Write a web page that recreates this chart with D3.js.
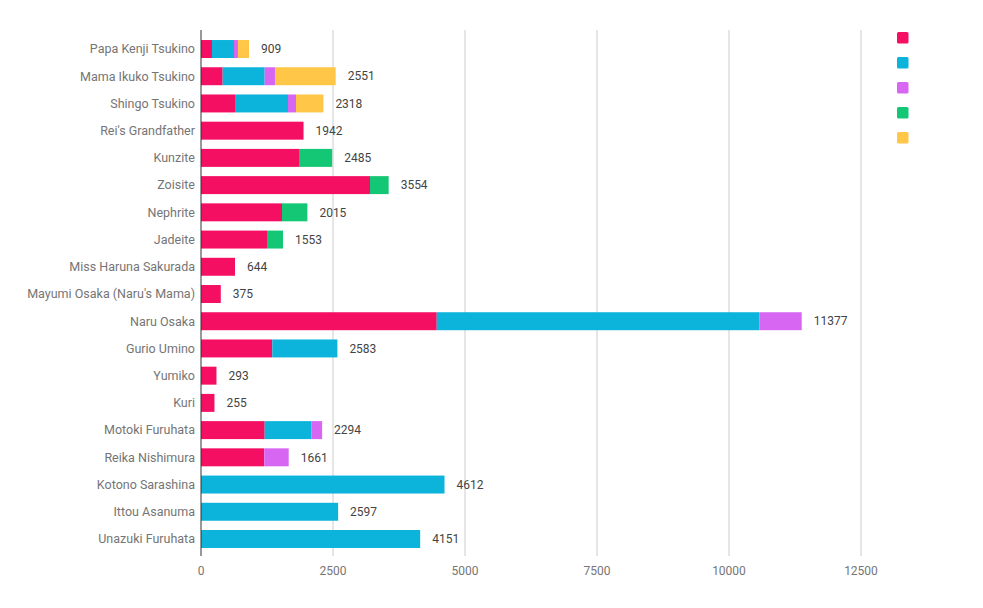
<!DOCTYPE html>
<html><head><meta charset="utf-8">
<script src="https://cdn.jsdelivr.net/npm/d3@7"></script>
<style>body{margin:0;background:#fff;}svg{display:block;font-family:Roboto,sans-serif;}</style>
</head><body><svg id="c" width="983" height="608"></svg>
<script>
const categories = ["Papa Kenji Tsukino","Mama Ikuko Tsukino","Shingo Tsukino","Rei's Grandfather","Kunzite","Zoisite","Nephrite","Jadeite","Miss Haruna Sakurada","Mayumi Osaka (Naru's Mama)","Naru Osaka","Gurio Umino","Yumiko","Kuri","Motoki Furuhata","Reika Nishimura","Kotono Sarashina","Ittou Asanuma","Unazuki Furuhata"];
const seriesA = [208,410,644,1942,1856,3201,1534,1250,644,375,4465,1350,293,255,1206,1198,0,0,0];
const seriesB = [417,796,1004,0,0,0,0,0,0,0,6110,1233,0,0,887,0,4612,2597,4151];
const seriesC = [75,195,151,0,0,0,0,0,0,0,802,0,0,0,201,463,0,0,0];
const seriesD = [0,0,0,0,629,353,481,303,0,0,0,0,0,0,0,0,0,0,0];
const seriesE = [209,1150,519,0,0,0,0,0,0,0,0,0,0,0,0,0,0,0,0];
const totals = [909,2551,2318,1942,2485,3554,2015,1553,644,375,11377,2583,293,255,2294,1661,4612,2597,4151];
const tickValues = [0,2500,5000,7500,10000,12500];
const seriesKeys = ["A","B","C","D","E"];
const colors = ["#f50f63","#0cb4dc","#d766f3","#14c774","#ffc647"];

const svg = d3.select("#c");
const x = d3.scaleLinear().domain([0,12500]).range([201,861]);
const y = d3.scaleBand().domain(categories).range([35.4,552.6]).paddingInner(0.34).paddingOuter(0.17);

const rows = categories.map((c,i)=>({cat:c,A:seriesA[i],B:seriesB[i],C:seriesC[i],D:seriesD[i],E:seriesE[i]}));
const stack = d3.stack().keys(seriesKeys)(rows);

svg.append("g").selectAll("line").data(tickValues.slice(1)).join("line")
  .attr("x1",d=>x(d)).attr("x2",d=>x(d)).attr("y1",30).attr("y2",556)
  .attr("stroke","#cccccc").attr("stroke-width",1);

stack.forEach((s,k)=>{
  svg.append("g").attr("fill",colors[k]).selectAll("rect").data(s.filter(d=>d[1]-d[0]>0)).join("rect")
    .attr("x",d=>x(d[0])).attr("width",d=>x(d[1])-x(d[0]))
    .attr("y",d=>y(d.data.cat)).attr("height",y.bandwidth());
});

svg.append("line").attr("x1",x(0)).attr("x2",x(0)).attr("y1",30).attr("y2",556).attr("stroke","#333").attr("stroke-width",1);

svg.append("g").selectAll("text").data(categories).join("text")
  .attr("x",195).attr("y",d=>y(d)+y.bandwidth()/2).attr("dy","0.35em")
  .attr("text-anchor","end").attr("font-size",12.5).attr("fill","#757575").text(d=>d);

svg.append("g").selectAll("text").data(totals).join("text")
  .attr("x",d=>x(d)+12).attr("y",(d,i)=>y(categories[i])+y.bandwidth()/2).attr("dy","0.35em")
  .attr("font-size",12).attr("fill","#444").text(d=>d);

svg.append("g").selectAll("text").data(tickValues).join("text")
  .attr("x",d=>x(d)).attr("y",575).attr("text-anchor","middle")
  .attr("font-size",12).attr("fill","#757575").text(d=>d);

svg.append("g").selectAll("rect").data(colors).join("rect")
  .attr("x",897).attr("y",(d,i)=>32+i*25).attr("width",11.5).attr("height",11.5)
  .attr("rx",1.5).attr("fill",d=>d);
</script></body></html>
